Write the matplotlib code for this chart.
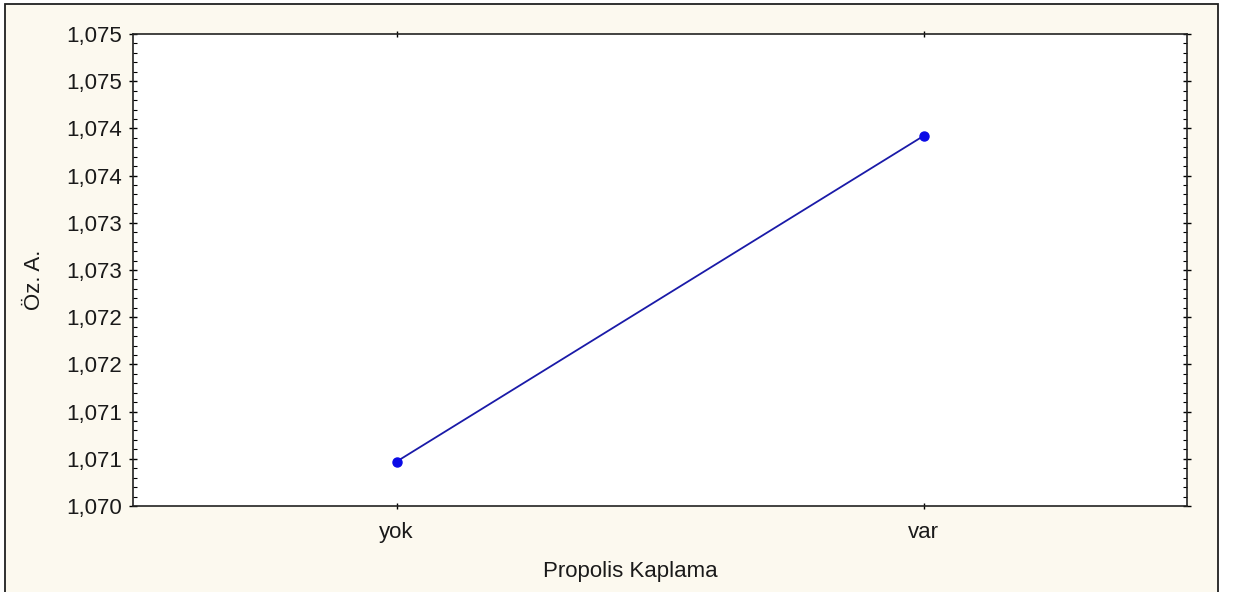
import numpy as np
import matplotlib
matplotlib.use('Agg')
import matplotlib.pyplot as plt
from matplotlib.ticker import FixedLocator, AutoMinorLocator, FuncFormatter
from matplotlib.patches import Rectangle

# mean values
groups = ['yok', 'var']
means = [1.07047, 1.07392]
yticks = [1.0700, 1.0705, 1.0710, 1.0715, 1.0720, 1.0725, 1.0730, 1.0735, 1.0740, 1.0745, 1.0750]

plt.rcParams['font.family'] = ['Liberation Sans', 'DejaVu Sans']

W, H = 1233, 592
fig = plt.figure(figsize=(W / 100, H / 100), dpi=100)
fig.patch.set_facecolor('white')

# cream panel with dark frame (Statistica style)
fig.patches.append(Rectangle((5 / W, -0.05), (1218 - 5) / W, (H - 4) / H + 0.05,
                             transform=fig.transFigure, facecolor='#fcf9ef',
                             edgecolor='#202020', linewidth=1.3, zorder=-10))

ax = fig.add_axes([133 / W, 1 - 506 / H, (1187 - 133) / W, (506 - 34) / H])
ax.set_zorder(1)
ax.set_facecolor('white')

x = np.arange(len(groups))
ax.plot(x, means, color='#1a1aa8', linewidth=1.3, zorder=3)
ax.plot(x, means, 'o', color='#0a0ae6', markersize=6.5, zorder=4)

ax.set_xlim(-0.5, 1.5)
ax.set_ylim(1.0700, 1.0750)
ax.set_xticks(x)
ax.set_xticklabels(groups)
ax.yaxis.set_major_locator(FixedLocator(yticks))
ax.yaxis.set_major_formatter(FuncFormatter(lambda v, p: ('%.3f' % (v + 1e-9)).replace('.', ',')))
ax.yaxis.set_minor_locator(AutoMinorLocator(5))

ax.tick_params(axis='y', which='major', direction='inout', length=6, width=1,
               labelsize=16, right=True, pad=5, labelcolor='#1a1a1a')
ax.tick_params(axis='y', which='minor', direction='in', length=3, width=0.8, right=True)
ax.tick_params(axis='x', which='major', direction='inout', length=5, width=1,
               labelsize=16, top=True, pad=9, labelcolor='#1a1a1a')

for s in ax.spines.values():
    s.set_linewidth(1.2)
    s.set_color('#222222')

fig.text(630 / W, 1 - 571 / H, 'Propolis Kaplama', ha='center', va='center',
         fontsize=16, color='#1a1a1a')
fig.text(34 / W, 1 - 280 / H, 'Öz. A.', ha='center', va='center', rotation=90,
         fontsize=16, color='#1a1a1a')

fig.savefig('out.png', dpi=100)
